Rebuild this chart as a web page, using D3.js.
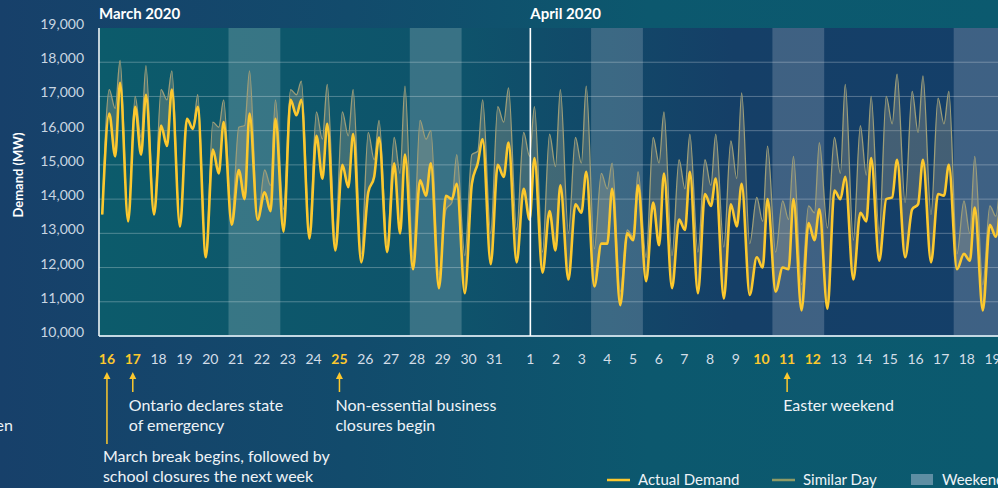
<!DOCTYPE html>
<html>
<head>
<meta charset="utf-8">
<script src="https://cdn.jsdelivr.net/npm/d3@7"></script>
<style>
  html, body { margin: 0; padding: 0; background: #133f68; overflow: hidden; }
  svg { display: block; font-family: Lato, "Open Sans", sans-serif; }
</style>
</head>
<body>
<div id="chart"></div>
<script>
// Day labels along the bottom, 16 March to 19 April 2020
const dayLabels = ["16","17","18","19","20","21","22","23","24","25","26","27","28","29","30","31",
                   "1","2","3","4","5","6","7","8","9","10","11","12","13","14","15","16","17","18","19"];
// days drawn in bold yellow (index into dayLabels)
const highlightDays = [0, 1, 9, 25, 26, 27];
// first day of each weekend (Sat + Sun)
const weekendStarts = [5, 12, 19, 26, 33];
const months = [{ label: "March 2020", day: 0 }, { label: "April 2020", day: 16 }];

// hour of day of each reading: night low, morning peak, afternoon dip, evening peak
const slotHours = [3, 9.5, 15, 19.5];

// Actual demand (MW) per day
const actualDemand = [
  [13550, 16500, 15250, 17400], [13350, 16700, 15300, 17050], [13550, 16150, 15550, 17200],
  [13200, 16350, 16050, 16700], [12300, 15450, 14750, 16250], [13250, 14850, 14000, 16500],
  [13400, 14200, 13650, 16350], [13050, 16900, 16450, 16900], [12850, 15850, 14600, 16200],
  [12500, 15000, 14350, 15900], [12150, 14200, 14650, 15800], [12450, 15050, 13000, 15300],
  [11950, 14550, 14100, 15050], [11400, 14100, 14000, 14450], [11250, 14450, 15050, 15750],
  [12100, 15000, 14650, 15650], [12150, 14300, 13400, 15200], [11850, 13650, 12500, 14400],
  [11650, 13850, 13600, 14800], [11450, 12700, 12700, 14300], [10900, 13000, 12800, 14400],
  [11600, 13900, 12650, 14750], [11400, 13400, 13100, 14800], [11250, 14150, 13800, 14600],
  [11100, 13850, 13200, 14450], [11200, 12300, 12000, 14000], [11300, 12000, 11950, 14000],
  [10750, 13300, 12800, 13700], [10800, 14250, 14000, 14650], [11650, 13600, 13350, 15200],
  [12200, 14000, 14050, 15150], [12300, 13700, 13850, 15150], [12150, 14150, 14100, 15000],
  [11950, 12400, 12200, 13750], [10750, 13250, 12900, 14000]
];

// Similar day demand (MW) per day
const similarDay = [
  [13550, 17200, 16650, 18050], [13350, 17000, 15800, 17900], [13550, 17200, 16900, 17750],
  [13200, 16350, 16050, 17050], [12300, 16250, 16100, 16900], [13400, 16100, 16150, 17750],
  [13400, 14850, 14400, 16900], [13700, 17200, 17050, 17450], [13100, 16550, 15750, 17350],
  [12800, 16550, 15850, 17200], [12400, 15950, 15150, 16300], [12700, 15800, 14750, 17300],
  [12300, 16300, 15750, 16000], [11800, 13700, 13900, 15300], [12350, 15300, 15400, 16900],
  [13000, 16700, 16250, 17250], [13100, 15950, 15250, 16700], [12450, 15900, 14950, 17200],
  [13000, 15800, 15050, 17300], [12550, 14750, 14300, 15050], [11300, 13100, 12900, 14800],
  [12300, 15800, 15050, 16550], [12350, 15150, 14300, 15900], [12450, 15150, 14400, 15900],
  [12600, 15700, 14600, 17100], [12700, 14050, 13350, 15550], [12450, 13950, 13400, 15250],
  [11500, 13800, 13600, 15650], [13150, 15800, 14750, 17350], [12800, 16150, 14700, 17000],
  [13000, 17000, 16200, 17650], [13900, 17150, 15950, 17600], [13550, 16950, 16200, 17150],
  [12400, 13950, 13000, 15250], [11500, 13800, 13500, 14800]
];

const yTicks = [10000, 11000, 12000, 13000, 14000, 15000, 16000, 17000, 18000, 19000];

const annotations = [
  { day: 0, row: 2, lines: ["March break begins, followed by", "school closures the next week"] },
  { day: 1, row: 1, lines: ["Ontario declares state", "of emergency"] },
  { day: 9, row: 1, lines: ["Non-essential business", "closures begin"] },
  { day: 26, row: 1, lines: ["Easter weekend"] }
];

const legendItems = [
  { label: "Actual Demand", type: "actual" },
  { label: "Similar Day", type: "similar" },
  { label: "Weekend", type: "weekend" }
];

// Setting up the svg
const width = 998;
const height = 488;
const plot = { left: 99, top: 28, bottom: 336, dayWidth: 25.9 };
const nDays = dayLabels.length;

const yellow = "#fcc82e";
const similarColor = "#9c9d78";

const svg = d3.select("#chart").append("svg")
    .attr("width", width)
    .attr("height", height);

const defs = svg.append("defs");

const bgGrad = defs.append("linearGradient").attr("id", "bg-grad");
[["0%", "#17406a"], ["35%", "#124b6c"], ["65%", "#0c586e"], ["100%", "#0b5a6f"]]
    .forEach(s => bgGrad.append("stop").attr("offset", s[0]).attr("stop-color", s[1]));

const plotGrad = defs.append("linearGradient").attr("id", "plot-grad");
[["0%", "#0c5b6b"], ["40%", "#0e536b"], ["70%", "#153f67"], ["100%", "#143f69"]]
    .forEach(s => plotGrad.append("stop").attr("offset", s[0]).attr("stop-color", s[1]));

// Scales
const x = d3.scaleLinear()
    .domain([0, nDays])
    .range([plot.left, plot.left + nDays * plot.dayWidth]);

const y = d3.scaleLinear()
    .domain([10000, 19000])
    .range([plot.bottom, plot.top]);

// the printed day labels are spaced a little unevenly (wider gap at the month change)
const labelScale = d3.scaleLinear()
    .domain([0, 15, 16, nDays - 1])
    .range([x(0.5) - 5, x(15.5) - 6, x(16.5) + 4, x(nDays - 0.5)]);
const labelX = i => labelScale(i);

defs.append("clipPath").attr("id", "plot-clip")
  .append("rect")
    .attr("x", x(0)).attr("y", y(19000))
    .attr("width", x(nDays) - x(0)).attr("height", y(10000) - y(19000));

// Background
svg.append("rect")
    .attr("width", width).attr("height", height)
    .attr("fill", "url(#bg-grad)");

svg.append("rect")
    .attr("x", x(0)).attr("y", y(19000))
    .attr("width", x(nDays) - x(0)).attr("height", y(10000) - y(19000))
    .attr("fill", "url(#plot-grad)");

// Weekend bands
svg.append("g").selectAll("rect")
    .data(weekendStarts)
    .enter().append("rect")
    .attr("x", d => x(d))
    .attr("y", y(19000))
    .attr("width", d => x(d + 2) - x(d))
    .attr("height", y(10000) - y(19000))
    .attr("fill", "#ffffff")
    .attr("fill-opacity", 0.18);

// Gridlines
svg.append("g").selectAll("line")
    .data(yTicks.filter(t => t > 10000 && t < 19000))
    .enter().append("line")
    .attr("x1", x(0)).attr("x2", x(nDays))
    .attr("y1", d => y(d)).attr("y2", d => y(d))
    .attr("stroke", "#ffffff")
    .attr("stroke-opacity", 0.28)
    .attr("stroke-width", 1);

// Build the point series
const toPoints = rows => rows.flatMap((r, i) => r.map((v, k) => ({ t: i + slotHours[k] / 24, v: v })));
const actualPts = toPoints(actualDemand);
const similarPts = toPoints(similarDay);
const pairs = actualPts.map((d, i) => ({ t: d.t, a: d.v, s: similarPts[i].v }));

const lines = svg.append("g").attr("clip-path", "url(#plot-clip)");

lines.append("path")
    .datum(pairs)
    .attr("d", d3.area()
        .x(d => x(d.t))
        .y0(d => y(d.a))
        .y1(d => y(d.s))
        .curve(d3.curveMonotoneX))
    .attr("fill", "#a8a58e")
    .attr("fill-opacity", 0.32);

lines.append("path")
    .datum(similarPts)
    .attr("d", d3.line().x(d => x(d.t)).y(d => y(d.v)).curve(d3.curveMonotoneX))
    .attr("fill", "none")
    .attr("stroke", similarColor)
    .attr("stroke-width", 1.3);

lines.append("path")
    .datum(actualPts)
    .attr("d", d3.line().x(d => x(d.t)).y(d => y(d.v)).curve(d3.curveMonotoneX))
    .attr("fill", "none")
    .attr("stroke", yellow)
    .attr("stroke-width", 2.6)
    .attr("stroke-linejoin", "round");

// Axis frame
svg.append("line")
    .attr("x1", x(0)).attr("x2", x(nDays))
    .attr("y1", y(10000)).attr("y2", y(10000))
    .attr("stroke", "#c3d8e3").attr("stroke-width", 2);

svg.append("line")
    .attr("x1", x(0)).attr("x2", x(0))
    .attr("y1", y(19000)).attr("y2", y(10000))
    .attr("stroke", "#eef4f7").attr("stroke-width", 1.6);

// Month divider + month titles
const monthX = d => d.day === 0 ? x(0) : labelX(d.day);

svg.append("g").selectAll("line")
    .data(months.filter(m => m.day > 0))
    .enter().append("line")
    .attr("x1", monthX).attr("x2", monthX)
    .attr("y1", y(19000)).attr("y2", y(10000))
    .attr("stroke", "#ffffff").attr("stroke-width", 1.6);

svg.append("g").selectAll("text")
    .data(months)
    .enter().append("text")
    .attr("x", monthX)
    .attr("y", 19)
    .attr("fill", "#ffffff")
    .attr("font-size", 15)
    .attr("font-weight", 700)
    .text(d => d.label);

// Y axis labels
svg.append("g").selectAll("text")
    .data(yTicks)
    .enter().append("text")
    .attr("x", 84)
    .attr("y", d => y(d) + 1)
    .attr("text-anchor", "end")
    .attr("fill", "#c9d6e2")
    .attr("font-size", 14)
    .text(d => d3.format(",")(d));

svg.append("text")
    .attr("transform", "translate(23,175) rotate(-90)")
    .attr("text-anchor", "middle")
    .attr("fill", "#ffffff")
    .attr("font-size", 13)
    .attr("font-weight", 700)
    .text("Demand (MW)");

// Day labels
svg.append("g").selectAll("text")
    .data(dayLabels)
    .enter().append("text")
    .attr("x", (d, i) => labelX(i))
    .attr("y", 364)
    .attr("text-anchor", "middle")
    .attr("font-size", 14)
    .attr("font-weight", (d, i) => highlightDays.includes(i) ? 700 : 400)
    .attr("fill", (d, i) => highlightDays.includes(i) ? yellow : "#d4dee8")
    .text(d => d);

// Annotations with arrows
const rowArrowEnd = { 1: 392, 2: 444 };
const rowTextY = { 1: 411, 2: 462 };

const notes = svg.append("g");
annotations.forEach(a => {
    const ax = labelX(a.day);
    notes.append("line")
        .attr("x1", ax).attr("x2", ax)
        .attr("y1", 377).attr("y2", rowArrowEnd[a.row])
        .attr("stroke", yellow).attr("stroke-width", 1.5);
    notes.append("path")
        .attr("d", `M${ax - 3.5},${379} L${ax},${372} L${ax + 3.5},${379} Z`)
        .attr("fill", yellow);
    const t = notes.append("text")
        .attr("x", ax - 4)
        .attr("y", rowTextY[a.row])
        .attr("fill", "#eef3f7")
        .attr("font-size", 16);
    a.lines.forEach((l, i) => {
        t.append("tspan").attr("x", ax - 4).attr("dy", i === 0 ? 0 : 20).text(l);
    });
});

// cut-off text from the neighbouring panel
svg.append("text")
    .attr("x", 13).attr("y", 431)
    .attr("text-anchor", "end")
    .attr("fill", "#eef3f7")
    .attr("font-size", 16)
    .text("en");

// Legend
const legendX = [607, 772, 911];
const legend = svg.append("g").attr("transform", "translate(0,480)");
legendItems.forEach((item, i) => {
    const g = legend.append("g").attr("transform", `translate(${legendX[i]},0)`);
    if (item.type === "weekend") {
        g.append("rect").attr("x", 0).attr("y", -6).attr("width", 22).attr("height", 11)
            .attr("fill", "#5e8ea3");
    } else {
        g.append("line").attr("x1", 0).attr("x2", 23).attr("y1", 0).attr("y2", 0)
            .attr("stroke", item.type === "actual" ? yellow : "#8e9b66")
            .attr("stroke-width", 2.5);
    }
    g.append("text")
        .attr("x", 31).attr("y", 5)
        .attr("fill", "#eef3f7")
        .attr("font-size", 15)
        .text(item.label);
});
</script>
</body>
</html>
